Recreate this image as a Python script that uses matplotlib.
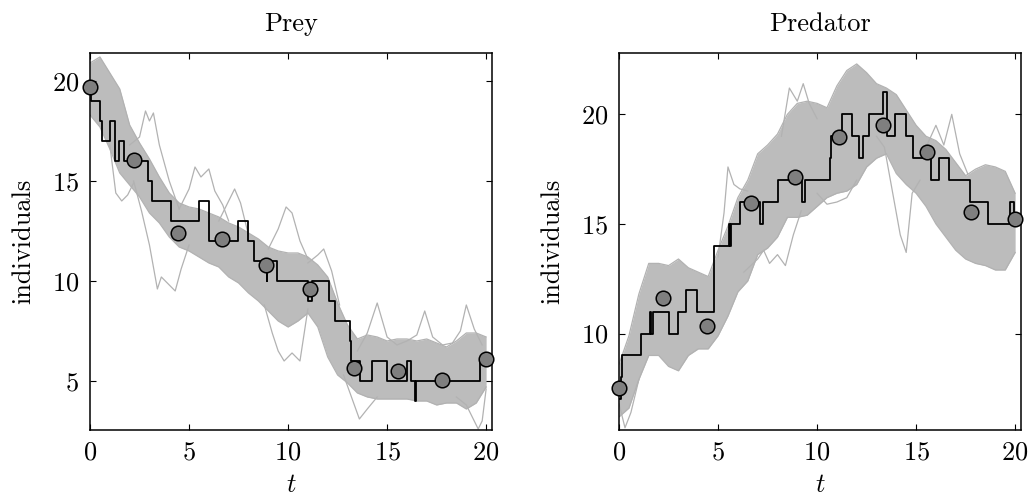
import numpy as np
import matplotlib
matplotlib.use("Agg")
import matplotlib.pyplot as plt

plt.rcParams["font.family"] = "serif"
plt.rcParams["font.serif"] = ["cmr10"]
plt.rcParams["mathtext.fontset"] = "cm"
plt.rcParams["axes.formatter.use_mathtext"] = True

# time grid on which the sampled band edges were read
t_grid = np.linspace(0, 20, 41)

# ---- Prey ----
prey_hi = [20.9, 21.2, 20.4, 19.6, 17.8, 16.9, 16.1, 15.2, 14.4, 13.9,
           13.7, 13.6, 13.4, 13.2, 12.9, 12.7, 12.4, 12.1, 11.7, 11.5,
           11.4, 11.4, 11.2, 10.8, 10.2, 8.9, 7.8, 7.1, 7.3, 7.2,
           7.0, 7.1, 7.1, 7.0, 7.1, 6.9, 6.7, 7.0, 7.4, 7.4, 7.2]
prey_lo = [18.3, 17.7, 16.6, 15.4, 14.8, 14.2, 13.4, 12.9, 12.2, 11.7,
           11.5, 11.2, 10.9, 10.7, 10.2, 9.9, 9.4, 9.0, 8.5, 8.0,
           7.7, 8.0, 8.4, 7.7, 6.2, 5.3, 4.9, 4.4, 4.2, 4.1,
           4.1, 4.1, 4.1, 4.0, 4.0, 3.8, 3.9, 3.9, 3.6, 3.9, 4.7]

# stray trajectories sticking out of the bundle
prey_outliers = [
    ([2.0, 2.5, 2.8, 3.0, 3.2, 3.5, 4.0, 4.5], [16.8, 17.2, 18.5, 18.0, 18.4, 16.8, 15.0, 13.6]),
    ([2.2, 2.6, 3.0, 3.4, 3.6, 4.0, 4.3, 4.6, 5.0], [15.0, 13.5, 11.8, 9.6, 10.2, 9.8, 9.5, 10.6, 11.8]),
    ([1.0, 1.3, 1.6, 1.9, 2.2], [16.8, 14.4, 14.0, 14.3, 14.9]),
    ([4.5, 5.0, 5.3, 5.6, 6.0, 6.3, 6.7, 7.0], [13.6, 14.6, 15.7, 15.2, 15.6, 14.5, 13.8, 13.0]),
    ([6.5, 7.0, 7.3, 7.6, 8.0], [13.0, 14.0, 14.6, 13.9, 12.3]),
    ([9.0, 9.5, 9.9, 10.2, 10.6, 11.0], [11.6, 12.6, 13.7, 13.4, 12.0, 11.1]),
    ([8.8, 9.2, 9.5, 9.8, 10.2, 10.6, 11.0], [8.8, 7.4, 6.5, 6.0, 6.4, 6.0, 8.6]),
    ([11.0, 11.5, 11.8, 12.2, 12.6], [10.9, 11.3, 11.6, 10.5, 8.8]),
    ([13.5, 14.0, 14.5, 15.0, 15.5, 16.0, 16.5, 16.9, 17.3, 17.8, 18.3, 18.7, 19.0, 19.4, 19.8],
     [6.5, 7.4, 8.9, 7.2, 6.8, 7.0, 7.3, 8.5, 7.2, 6.8, 6.9, 7.5, 8.8, 7.6, 6.8]),
    ([18.5, 19.0, 19.3, 19.6, 19.8, 20.0], [4.2, 3.8, 3.2, 2.6, 3.0, 4.6]),
    ([12.8, 13.2, 13.6, 14.0, 14.5], [5.3, 4.2, 3.1, 3.6, 4.2]),
]

prey_step_t = [0, 0.05, 0.5, 0.59, 1.01, 1.26, 1.48, 1.73, 2.95, 3.11,
               4.09, 5.5, 6.01, 7.49, 8.0, 8.3, 8.92, 8.96, 9.45, 11.0,
               11.2, 12.09, 12.37, 13.13, 13.17, 13.64, 14.23, 14.98, 16.0, 16.2,
               16.41, 16.45, 19.7, 20]
prey_step_n = [20, 19, 18, 17, 18, 16, 17, 16, 15, 14,
               13, 14, 12, 13, 12, 11, 10, 11, 10, 9,
               10, 9, 8, 7, 6, 5, 6, 5, 6, 5,
               4, 5, 6, 6]

obs_t = [0, 2.22, 4.44, 6.67, 8.89, 11.11, 13.33, 15.56, 17.78, 20]
prey_obs = [19.7, 16.05, 12.4, 12.1, 10.8, 9.6, 5.65, 5.5, 5.05, 6.1]

# ---- Predator ----
pred_hi = [8.6, 9.9, 11.8, 13.2, 13.2, 13.1, 13.4, 13.0, 12.8, 12.6,
           13.8, 14.9, 16.2, 17.0, 18.2, 18.6, 19.1, 20.0, 20.5, 20.6,
           20.5, 20.3, 21.3, 22.0, 22.3, 21.9, 21.4, 21.2, 20.9, 20.2,
           19.5, 19.0, 18.8, 18.4, 17.8, 17.2, 17.5, 17.7, 17.6, 17.4, 16.4]
pred_lo = [6.2, 6.6, 7.9, 9.0, 9.0, 8.5, 8.3, 9.0, 9.3, 9.3,
           9.9, 10.8, 11.9, 12.4, 13.6, 13.9, 14.4, 15.3, 15.3, 15.4,
           15.8, 16.2, 16.4, 16.5, 16.8, 17.6, 18.0, 18.2, 17.3, 16.8,
           16.4, 15.8, 15.0, 14.4, 13.8, 13.4, 13.2, 13.1, 12.9, 12.9, 13.7]

pred_outliers = [
    ([5.0, 5.3, 5.5, 5.8, 6.1, 6.5], [13.5, 15.5, 17.6, 16.8, 16.6, 16.5]),
    ([6.3, 7.0, 7.3, 7.6, 8.0, 8.4, 8.8, 9.2], [12.8, 13.4, 13.8, 13.2, 13.6, 13.1, 14.5, 15.6]),
    ([13.0, 13.4, 13.8, 14.2, 14.5, 14.8, 15.2], [19.0, 18.5, 16.5, 14.5, 13.7, 16.4, 17.0]),
    ([15.5, 16.0, 16.4, 16.8, 17.2, 17.6], [18.5, 19.5, 18.6, 20.0, 18.2, 17.3]),
    ([8.2, 8.6, 9.0, 9.3, 9.6, 10.0], [19.0, 21.2, 20.6, 21.4, 20.5, 19.8]),
    ([0.0, 0.3, 0.6, 1.0], [6.8, 5.7, 6.4, 7.9]),
    ([10.0, 10.5, 11.0, 11.5, 12.0], [16.4, 15.9, 16.0, 16.2, 17.0]),
]

pred_step_t = [0, 0.1, 0.17, 1.09, 1.54, 1.62, 1.72, 2.52, 2.99, 3.36,
               3.95, 4.79, 5.54, 5.6, 5.66, 6.1, 7.14, 7.26, 8.03, 9.24,
               9.4, 10.66, 10.72, 11.27, 11.77, 12.1, 12.31, 12.64, 13.35, 13.52,
               13.92, 14.49, 14.86, 15.75, 16.17, 16.67, 17.73, 18.65, 19.75, 19.95, 20]
pred_step_n = [7, 8, 9, 10, 11, 10, 11, 10, 11, 12,
               11, 14, 15, 14, 15, 16, 15, 16, 17, 16,
               17, 18, 19, 20, 19, 18, 19, 20, 21, 19,
               20, 19, 18, 17, 18, 17, 16, 15, 16, 15, 15]

pred_obs = [7.53, 11.62, 10.36, 15.94, 17.15, 18.97, 19.53, 18.26, 15.55, 15.23]

BAND = "#bcbcbc"
GREY = "#b2b2b2"


def draw_panel(ax, hi, lo, outliers, step_t, step_n, obs, title, ylim, yticks):
    ax.fill_between(t_grid, lo, hi, color=BAND, lw=0, zorder=1)
    ax.plot(t_grid, hi, color=GREY, lw=0.9, zorder=1)
    ax.plot(t_grid, lo, color=GREY, lw=0.9, zorder=1)
    for ot, oy in outliers:
        ax.plot(ot, oy, color=GREY, lw=0.9, zorder=1)
    ax.plot(step_t, step_n, drawstyle="steps-post", color="black", lw=1.3, zorder=2)
    ax.plot(obs_t, obs, "o", ms=10.5, mfc="#7f7f7f", mec="black", mew=1.1,
            clip_on=False, zorder=3)

    ax.set_xlim(0, 20.3)
    ax.set_ylim(*ylim)
    ax.set_xticks([0, 5, 10, 15, 20])
    ax.set_yticks(yticks)
    ax.tick_params(direction="in", length=4, width=0.8, top=True, right=True,
                   labelsize=19, pad=8)
    for s in ax.spines.values():
        s.set_linewidth(1.1)
    ax.set_title(title, fontsize=19, pad=16)
    ax.set_xlabel(r"$t$", fontsize=19, labelpad=6)
    ax.set_ylabel("individuals", fontsize=19, labelpad=12)


fig = plt.figure(figsize=(10.29, 4.96), dpi=100)
ax1 = fig.add_axes([0.0875, 0.1331, 0.3907, 0.7601])
ax2 = fig.add_axes([0.6016, 0.1331, 0.3907, 0.7601])

draw_panel(ax1, prey_hi, prey_lo, prey_outliers, prey_step_t, prey_step_n,
           prey_obs, "Prey", (2.55, 21.4), [5, 10, 15, 20])
draw_panel(ax2, pred_hi, pred_lo, pred_outliers, pred_step_t, pred_step_n,
           pred_obs, "Predator", (5.6, 22.8), [10, 15, 20])

fig.savefig("out.png", dpi=100)
